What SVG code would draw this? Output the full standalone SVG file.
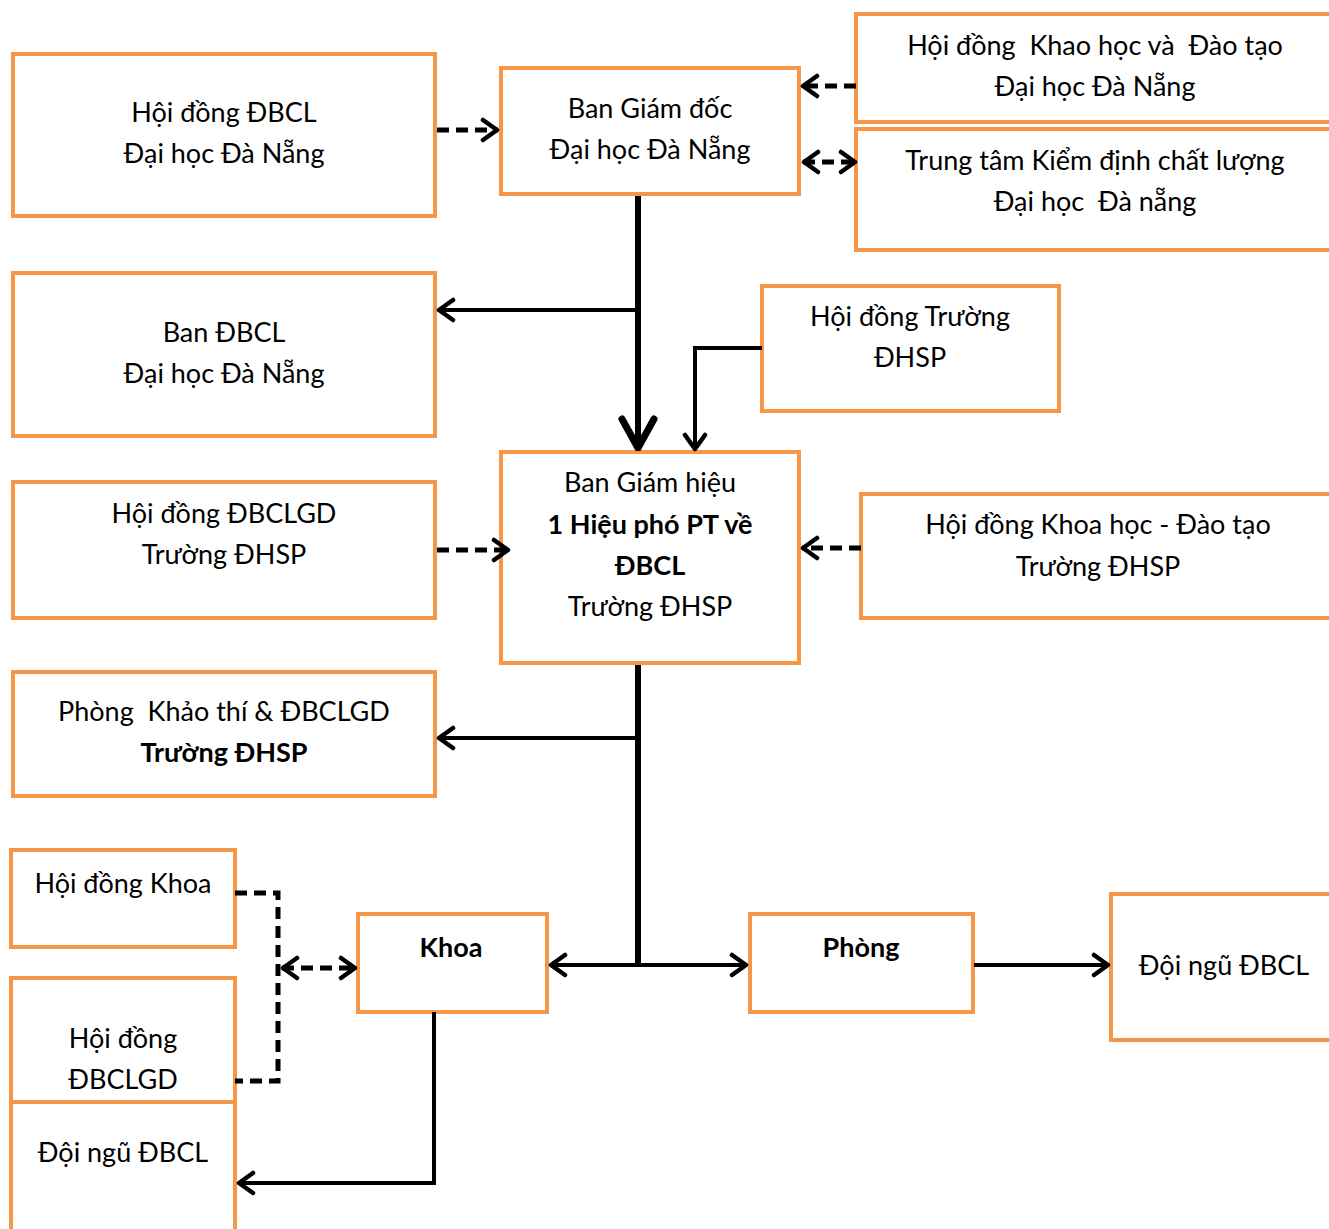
<svg xmlns="http://www.w3.org/2000/svg" width="1329" height="1229" viewBox="0 0 1329 1229">
<style>
.box{fill:#fff;stroke:#F79646;stroke-width:4}
.t{font-family:Lato,"Open Sans","Liberation Sans",sans-serif;font-size:27px;fill:#000;text-anchor:middle}
.b{font-weight:bold}
.ln{fill:none;stroke:#000;stroke-width:4}
.dash{fill:none;stroke:#000;stroke-width:5;stroke-dasharray:12 7}
.thick{fill:none;stroke:#000;stroke-width:6}
</style>
<defs>
<marker id="arr" viewBox="0 0 20 26" markerUnits="userSpaceOnUse" markerWidth="20" markerHeight="26" refX="18" refY="13" orient="auto-start-reverse">
<path d="M3,3 L17,13 L3,23" fill="none" stroke="#000" stroke-width="4.5" stroke-linecap="round" stroke-linejoin="round"/>
</marker>
<marker id="big" viewBox="0 0 36 40" markerUnits="userSpaceOnUse" markerWidth="36" markerHeight="40" refX="34" refY="20" orient="auto">
<path d="M4,4 L33,20 L4,36" fill="none" stroke="#000" stroke-width="7" stroke-linecap="round" stroke-linejoin="round"/>
</marker>
</defs>

<g id="n-hd-dbcl-dhdn"><rect class="box" x="13" y="54" width="422" height="162"/>
<text class="t" x="224" y="122">Hội đồng ĐBCL</text><text class="t" x="224" y="163">Đại học Đà Nẵng</text></g>

<g id="n-ban-giam-doc"><rect class="box" x="501" y="68" width="298" height="126"/>
<text class="t" x="650" y="118">Ban Giám đốc</text><text class="t" x="650" y="159">Đại học Đà Nẵng</text></g>

<g id="n-hd-khdt-dhdn"><rect class="box" x="856" y="14" width="490" height="108"/>
<text class="t" x="1095" y="55" xml:space="preserve">Hội đồng  Khao học và  Đào tạo</text><text class="t" x="1095" y="96">Đại học Đà Nẵng</text></g>

<g id="n-ttkd"><rect class="box" x="856" y="129" width="490" height="121"/>
<text class="t" x="1095" y="170">Trung tâm Kiểm định chất lượng</text><text class="t" x="1095" y="211" xml:space="preserve">Đại học  Đà nẵng</text></g>

<g id="n-ban-dbcl"><rect class="box" x="13" y="273" width="422" height="163"/>
<text class="t" x="224" y="342">Ban ĐBCL</text><text class="t" x="224" y="383">Đại học Đà Nẵng</text></g>

<g id="n-hd-truong"><rect class="box" x="762" y="286" width="297" height="125"/>
<text class="t" x="910" y="326">Hội đồng Trường</text><text class="t" x="910" y="367">ĐHSP</text></g>

<g id="n-ban-giam-hieu"><rect class="box" x="501" y="452" width="298" height="211"/>
<text class="t" x="650" y="492">Ban Giám hiệu</text><text class="t b" x="650" y="534">1 Hiệu phó PT về</text><text class="t b" x="650" y="575">ĐBCL</text><text class="t" x="650" y="616">Trường ĐHSP</text></g>

<g id="n-hd-dbclgd"><rect class="box" x="13" y="482" width="422" height="136"/>
<text class="t" x="224" y="523">Hội đồng ĐBCLGD</text><text class="t" x="224" y="564">Trường ĐHSP</text></g>

<g id="n-hd-khdt-truong"><rect class="box" x="861" y="494" width="485" height="124"/>
<text class="t" x="1098" y="534">Hội đồng Khoa học - Đào tạo</text><text class="t" x="1098" y="576">Trường ĐHSP</text></g>

<g id="n-phong-khao-thi"><rect class="box" x="13" y="672" width="422" height="124"/>
<text class="t" x="224" y="721" xml:space="preserve">Phòng  Khảo thí &amp; ĐBCLGD</text><text class="t b" x="224" y="762">Trường ĐHSP</text></g>

<g id="n-hd-khoa"><rect class="box" x="11" y="850" width="224" height="97"/>
<text class="t" x="123" y="893">Hội đồng Khoa</text></g>

<g id="n-hd-dbclgd-khoa"><rect class="box" x="11" y="978" width="224" height="124"/>
<text class="t" x="123" y="1048">Hội đồng</text><text class="t" x="123" y="1089">ĐBCLGD</text></g>

<g id="n-doi-ngu-khoa"><rect class="box" x="11" y="1102" width="224" height="140"/>
<text class="t" x="123" y="1162">Đội ngũ ĐBCL</text></g>

<g id="n-khoa"><rect class="box" x="358" y="914" width="189" height="98"/>
<text class="t b" x="451" y="957">Khoa</text></g>

<g id="n-phong"><rect class="box" x="750" y="914" width="223" height="98"/>
<text class="t b" x="861" y="957">Phòng</text></g>

<g id="n-doi-ngu-phong"><rect class="box" x="1111" y="894" width="235" height="146"/>
<text class="t" x="1224" y="975">Đội ngũ ĐBCL</text></g>

<g id="connectors">
<path class="dash" d="M437,130 H498" marker-end="url(#arr)"/>
<path class="dash" d="M856,86 H802" marker-end="url(#arr)"/>
<path class="dash" d="M803,162 H856" marker-start="url(#arr)" marker-end="url(#arr)"/>
<path class="thick" d="M638,196 V449" marker-end="url(#big)"/>
<path class="ln" d="M638,310 H438" marker-end="url(#arr)"/>
<path class="ln" d="M762,348 H695 V450" marker-end="url(#arr)"/>
<path class="dash" d="M437,550 H509" marker-end="url(#arr)"/>
<path class="dash" d="M861,548 H802" marker-end="url(#arr)"/>
<path class="thick" d="M638,665 V965"/>
<path class="ln" d="M638,738 H438" marker-end="url(#arr)"/>
<path class="ln" d="M550,965 H747" marker-start="url(#arr)" marker-end="url(#arr)"/>
<path class="ln" d="M974,965 H1109" marker-end="url(#arr)"/>
<path class="ln" d="M434,1012 V1183 H238" marker-end="url(#arr)"/>
<path class="dash" d="M235,893 H278 V1081 H235"/>
<path class="dash" d="M282,968 H356" marker-start="url(#arr)" marker-end="url(#arr)"/>
</g>
</svg>
